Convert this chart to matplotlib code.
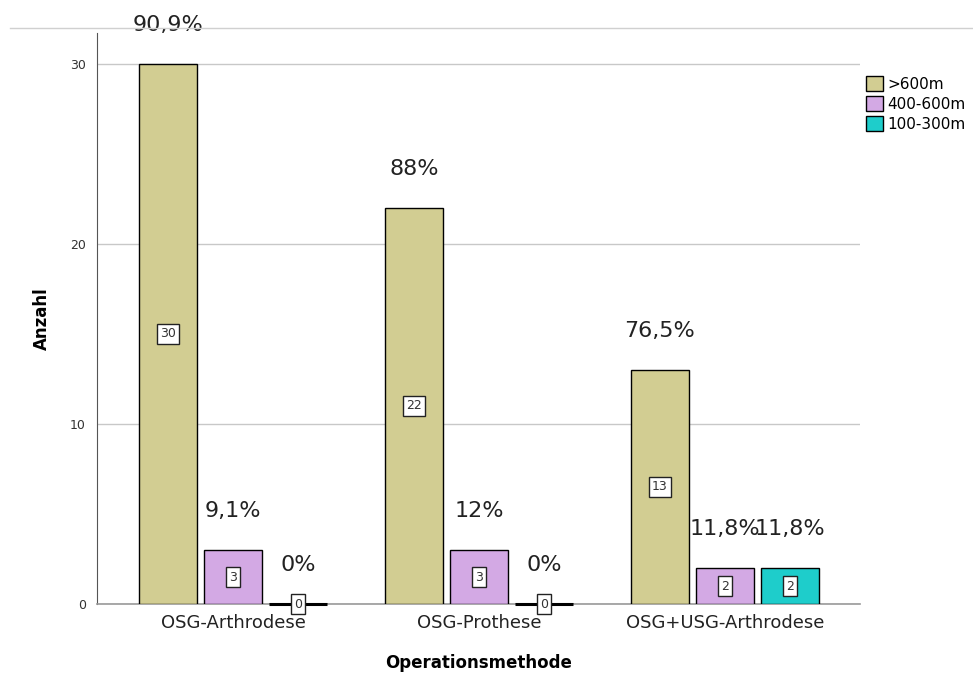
import numpy as np
import matplotlib
matplotlib.use("Agg")
import matplotlib.pyplot as plt
from matplotlib.lines import Line2D

# data
methods = ["OSG-Arthrodese", "OSG-Prothese", "OSG+USG-Arthrodese"]
distances = [">600m", "400-600m", "100-300m"]
counts_600 = [30, 22, 13]
counts_400 = [3, 3, 2]
counts_100 = [0, 0, 2]
pct_labels = [
    ["90,9%", "88%", "76,5%"],
    ["9,1%", "12%", "11,8%"],
    ["0%", "0%", "11,8%"],
]

colors = ["#D2CD92", "#D3A9E4", "#1ECDCB"]

plt.rcParams["font.family"] = ["DejaVu Sans"]

fig = plt.figure(figsize=(9.73, 6.77), dpi=100)
ax = fig.add_axes([0.0997, 0.1078, 0.784, 0.843])

x = np.arange(len(methods))
width = 0.236
step = 0.264
series = [counts_600, counts_400, counts_100]

for i, vals in enumerate(series):
    pos = x + (i - 1) * step
    ax.bar(pos, vals, width, color=colors[i], edgecolor="black",
           linewidth=1.0, label=distances[i], zorder=3)
    for j, (p, v) in enumerate(zip(pos, vals)):
        if v == 0:
            ax.plot([p - width / 2, p + width / 2], [0, 0], color="black",
                    linewidth=2.2, zorder=4, solid_capstyle="butt",
                    clip_on=False)
        # count label in a white box
        ax.text(p, v / 2, str(v), ha="center", va="center", fontsize=9,
                color="#333333", zorder=5,
                bbox=dict(boxstyle="square,pad=0.25", facecolor="white",
                          edgecolor="#222222", linewidth=1.0))
        # percentage above bar
        ax.annotate(pct_labels[i][j], (p, v), xytext=(0, 28),
                    textcoords="offset points", ha="center", va="center",
                    fontsize=16, color="#222222", zorder=5,
                    annotation_clip=False)

ax.set_xlim(-0.553, 2.549)
ax.set_ylim(0, 31.7)
ax.set_yticks([0, 10, 20, 30])
ax.yaxis.grid(True, color="#C8C8C8", linewidth=1, zorder=0)
ax.tick_params(axis="y", length=0, labelsize=9, pad=8, labelcolor="#333333")
ax.tick_params(axis="x", length=0, labelsize=13, pad=7, labelcolor="#222222")
ax.set_xticks(x)
ax.set_xticklabels(methods)

for s in ["top", "right"]:
    ax.spines[s].set_visible(False)
ax.spines["left"].set_color("#555555")
ax.spines["left"].set_linewidth(0.8)
ax.spines["bottom"].set_color("#999999")
ax.spines["bottom"].set_linewidth(1.2)

ax.set_ylabel("Anzahl", fontsize=12, fontweight="bold", labelpad=14)
ax.set_xlabel("Operationsmethode", fontsize=12, fontweight="bold", labelpad=16)

# separator line at the top of the figure
fig.add_artist(Line2D([10 / 973, 1], [1 - 28 / 677, 1 - 28 / 677],
                      color="#D0D0D0", linewidth=1))

fig.legend(loc="upper left", bbox_to_anchor=(0.884, 1 - 70 / 677),
           frameon=False, fontsize=11, handlelength=1.1, handleheight=1.1,
           handletextpad=0.3, labelspacing=0.3, borderaxespad=0)

fig.savefig("out.png", dpi=100)
